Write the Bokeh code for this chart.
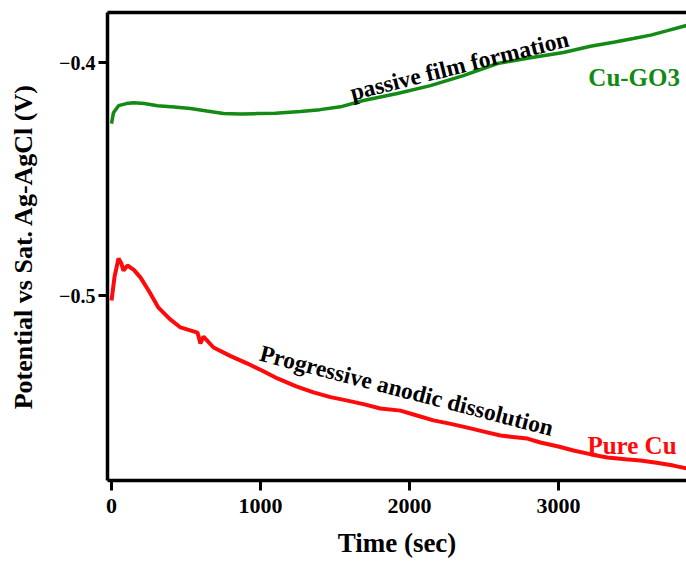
from bokeh.plotting import figure
from bokeh.models import Range1d, FixedTicker, LinearAxis, Label
from bokeh.embed import file_html
from bokeh.resources import INLINE
import math

# ---- data ----
cugo3_t = [0, 13, 47, 100, 148, 220, 309, 420, 530, 640, 752, 866, 980, 1100, 1268, 1400,
           1537, 1691, 1919, 2141, 2362, 2591, 2812, 3034, 3215, 3380, 3503, 3620, 3732, 3859]
cugo3_v = [-0.4262, -0.4215, -0.4185, -0.4176, -0.4172, -0.4176, -0.4185, -0.4191, -0.4197,
           -0.4208, -0.4219, -0.4221, -0.4219, -0.4218, -0.4210, -0.4202, -0.4190, -0.4163,
           -0.4133, -0.4099, -0.4056, -0.4004, -0.3979, -0.3957, -0.3930, -0.3912, -0.3897,
           -0.3882, -0.3863, -0.3841]

purecu_t = [0, 20, 47, 65, 80, 107, 150, 195, 255, 315, 390, 463, 577, 597, 617, 685, 800, 913,
            1010, 1114, 1240, 1356, 1470, 1584, 1691, 1805, 1940, 2050, 2161, 2270, 2389, 2500,
            2611, 2792, 2879, 3000, 3101, 3220, 3329, 3450, 3550, 3660, 3772, 3859]
purecu_v = [-0.5021, -0.4920, -0.4841, -0.4860, -0.4893, -0.4871, -0.4890, -0.4923, -0.4985,
            -0.5052, -0.5100, -0.5137, -0.5159, -0.5206, -0.5176, -0.5223, -0.5260, -0.5292,
            -0.5322, -0.5356, -0.5390, -0.5416, -0.5436, -0.5451, -0.5466, -0.5485, -0.5494,
            -0.5515, -0.5536, -0.5550, -0.5567, -0.5584, -0.5601, -0.5614, -0.5631, -0.5648,
            -0.5665, -0.5682, -0.5695, -0.5703, -0.5708, -0.5718, -0.5730, -0.5742]

x_ticks = [0, 1000, 2000, 3000]
y_ticks = [-0.5, -0.4]

x_label = "Time (sec)"
y_label = "Potential vs Sat. Ag-AgCl (V)"
series_names = ["Cu-GO3", "Pure Cu"]
note_passive = "passive film formation"
note_dissolution = "Progressive anodic dissolution"

FONT = "Liberation Serif"
GREEN = "#138a13"
RED = "#ff0a0a"

p = figure(width=686, height=562, output_backend="svg", toolbar_location=None,
           x_range=Range1d(-27, 3860), y_range=Range1d(-0.5794, -0.3785),
           min_border_left=107, min_border_right=0, min_border_top=12, min_border_bottom=82)
p.outline_line_color = None
p.grid.visible = False
p.background_fill_color = "white"
p.border_fill_color = "white"

p.line(cugo3_t, cugo3_v, line_color=GREEN, line_width=3.5)
p.line(purecu_t, purecu_v, line_color=RED, line_width=4)

for ax in (p.xaxis[0], p.yaxis[0]):
    ax.axis_line_width = 3.5
    ax.axis_line_color = "black"
    ax.major_tick_line_width = 3
    ax.major_tick_in = 0
    ax.minor_tick_line_color = None
    ax.major_label_text_font = FONT
    ax.major_label_text_font_style = "bold"
    ax.major_label_text_color = "black"
    ax.axis_label_text_font = FONT
    ax.axis_label_text_font_style = "bold"
    ax.axis_label_text_color = "black"

p.xaxis[0].ticker = FixedTicker(ticks=x_ticks)
p.xaxis[0].major_tick_out = 10
p.xaxis[0].major_label_text_font_size = "22px"
p.xaxis[0].major_label_standoff = 8
p.xaxis[0].axis_label = x_label
p.xaxis[0].axis_label_text_font_size = "27px"
p.xaxis[0].axis_label_standoff = 12

p.yaxis[0].ticker = FixedTicker(ticks=y_ticks)
p.yaxis[0].major_tick_out = 9
p.yaxis[0].major_label_text_font_size = "20px"
p.yaxis[0].major_label_standoff = 3
p.yaxis[0].axis_label = y_label
p.yaxis[0].axis_label_text_font_size = "26px"
p.yaxis[0].axis_label_standoff = 18

top = LinearAxis(ticker=FixedTicker(ticks=[]), axis_line_width=3.5, axis_line_color="black",
                 major_tick_in=0, major_tick_out=0, minor_tick_line_color=None,
                 major_label_text_font_size="0px")
p.add_layout(top, "above")

p.add_layout(Label(x=1604, y=-0.4129, text=note_passive, angle=math.radians(14),
                   text_font=FONT, text_font_style="bold", text_font_size="23.5px",
                   text_color="black", text_baseline="alphabetic"))
p.add_layout(Label(x=1000, y=-0.5245, text=note_dissolution, angle=math.radians(-14.5),
                   text_font=FONT, text_font_style="bold", text_font_size="23.5px",
                   text_color="black", text_baseline="alphabetic"))
p.add_layout(Label(x=3201, y=-0.4064, text=series_names[0], text_font=FONT,
                   text_font_style="bold", text_font_size="25px", text_color=GREEN,
                   text_baseline="alphabetic"))
p.add_layout(Label(x=3195, y=-0.5644, text=series_names[1], text_font=FONT,
                   text_font_style="bold", text_font_size="25px", text_color=RED,
                   text_baseline="alphabetic"))

open("out.html", "w").write(file_html(p, INLINE))
